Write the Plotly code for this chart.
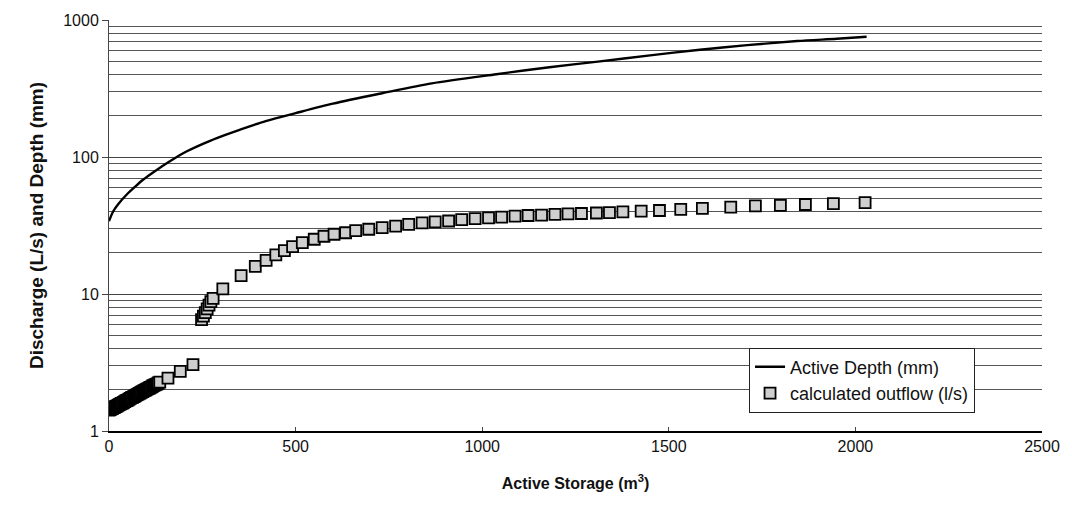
import plotly.graph_objects as go

# Active depth curve (mm) against active storage (m3)
depth_storage = [0, 11, 25, 47, 70, 92, 120, 163, 200, 250, 287, 350, 420, 500, 600,
                 732, 865, 1038, 1180, 1310, 1450, 1577, 1710, 1844, 1950, 2030]
depth_mm = [34, 40, 45.4, 53, 60.7, 68.5, 77.8, 93, 107, 124, 137, 158, 183, 209, 245,
            292, 345, 402, 452, 497, 552, 604, 655, 702, 730, 755]

# Calculated outflow (l/s) against active storage (m3)
outflow_storage = [0, 3, 6, 9, 12, 15, 18, 21, 24, 27, 30, 33, 36, 39, 42, 45, 48, 51,
                   54, 57, 60, 63, 66, 69, 72, 75, 78, 81, 84, 87, 90, 93, 96, 99, 102,
                   105, 108, 111, 114, 117, 120, 123, 126, 129, 132, 136, 158, 191, 225,
                   248, 253, 258, 263, 268, 273, 279, 305, 354, 392, 421, 447, 470, 492,
                   518, 550, 576, 603, 634, 661, 696, 732, 768, 803, 839, 874, 910, 945,
                   981, 1017, 1052, 1088, 1123, 1159, 1195, 1230, 1266, 1306, 1341, 1377,
                   1426, 1475, 1532, 1590, 1666, 1732, 1799, 1866, 1941, 2026]
outflow_ls = [1.42, 1.43, 1.45, 1.46, 1.48, 1.49, 1.51, 1.52, 1.54, 1.56, 1.57, 1.59,
              1.60, 1.62, 1.64, 1.66, 1.67, 1.69, 1.71, 1.73, 1.75, 1.76, 1.78, 1.80,
              1.82, 1.84, 1.86, 1.88, 1.90, 1.92, 1.94, 1.96, 1.98, 2.00, 2.02, 2.04,
              2.06, 2.08, 2.10, 2.13, 2.15, 2.17, 2.19, 2.21, 2.24, 2.27, 2.43, 2.72, 3.05,
              6.5, 6.9, 7.3, 7.8, 8.3, 8.8, 9.3, 10.9, 13.6, 15.9, 17.6, 19.3, 20.7, 22.2,
              23.7, 25.1, 26.4, 27.3, 28.0, 29.0, 29.7, 30.5, 31.3, 32.2, 33.0, 33.6, 34.1,
              34.9, 35.5, 36.0, 36.4, 37.0, 37.4, 37.7, 38.1, 38.4, 38.7, 39.0, 39.3, 39.8,
              40.2, 40.7, 41.4, 42.1, 43.0, 44.0, 44.4, 45.0, 45.6, 46.4]

x_ticks = [0, 500, 1000, 1500, 2000, 2500]
y_ticks = [1, 10, 100, 1000]
y_minor = [m * d for d in (1, 10, 100) for m in range(2, 10)]

FONT = "Liberation Sans, Arial, sans-serif"

fig = go.Figure()
fig.add_trace(go.Scatter(
    x=depth_storage, y=depth_mm, mode="lines", name="Active Depth (mm)",
    line=dict(color="black", width=2.4, shape="spline", smoothing=0.8),
))
fig.add_trace(go.Scatter(
    x=outflow_storage, y=outflow_ls, mode="markers", name="calculated outflow (l/s)",
    marker=dict(symbol="square", size=11, color="#cfcfcf",
                line=dict(color="black", width=1.8)),
))

fig.update_layout(
    width=1072, height=511,
    margin=dict(l=109, r=26, t=18, b=80),
    paper_bgcolor="white", plot_bgcolor="white",
    font=dict(family=FONT, size=16, color="#111"),
    showlegend=True,
    legend=dict(
        x=0.686, y=0.203, xanchor="left", yanchor="top",
        bgcolor="white", bordercolor="#222", borderwidth=1,
        font=dict(family=FONT, size=18, color="#111"),
        itemwidth=30, tracegroupgap=2,
    ),
    xaxis=dict(
        range=[0, 2500], tickvals=x_ticks, ticktext=[str(v) for v in x_ticks],
        showgrid=False, zeroline=False,
        showline=True, linecolor="black", linewidth=1.5,
        ticks="inside", ticklen=4, tickcolor="#444",
        tickfont=dict(size=16),
        title=dict(text="<b>Active Storage (m<sup>3</sup>)</b>",
                   font=dict(family=FONT, size=16), standoff=24),
    ),
    yaxis=dict(
        type="log", range=[0, 3], tickvals=y_ticks, ticktext=[str(v) for v in y_ticks],
        showgrid=True, gridcolor="#444", gridwidth=1,
        minor=dict(tickvals=y_minor, showgrid=True, gridcolor="#555", gridwidth=1, ticks=""),
        zeroline=False,
        showline=True, linecolor="#444", linewidth=1,
        ticks="outside", ticklen=6, tickcolor="#444",
        tickfont=dict(size=16),
        title=dict(text="<b>Discharge (L/s) and Depth (mm)</b>",
                   font=dict(family=FONT, size=19), standoff=14),
    ),
)

fig.write_html("out.html")
